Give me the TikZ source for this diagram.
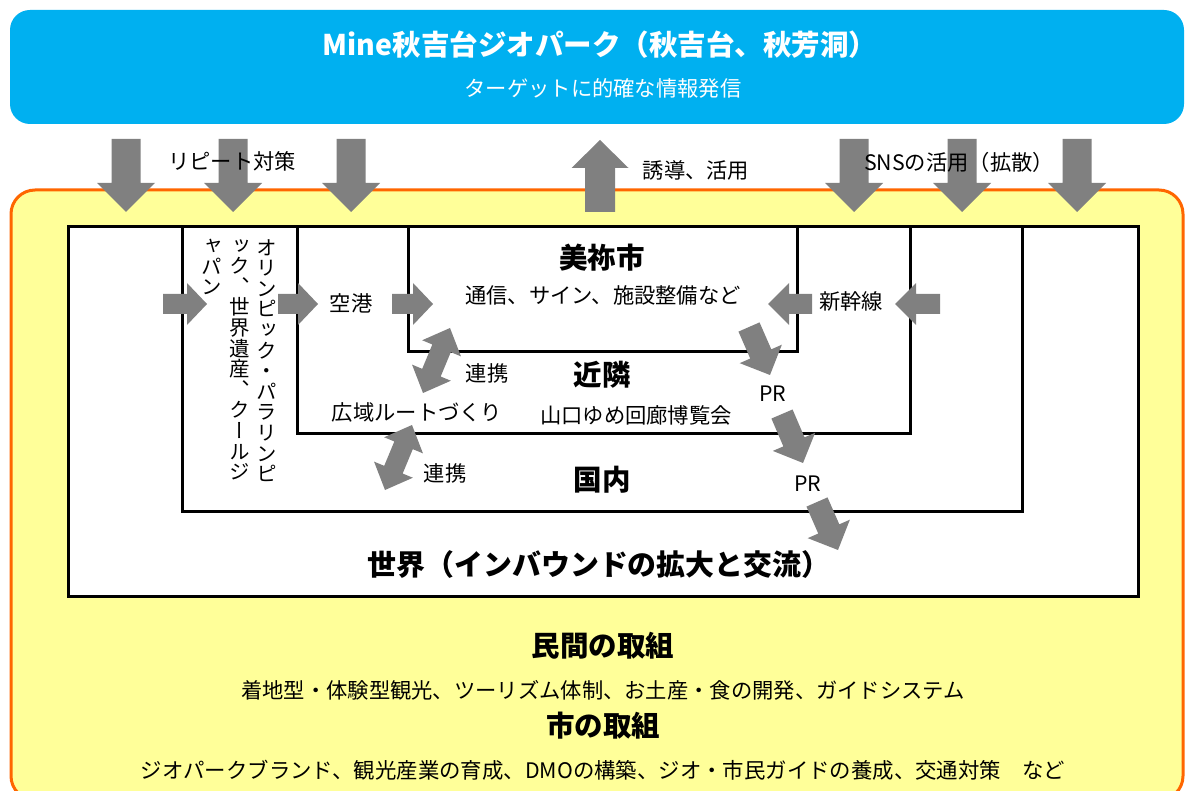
\documentclass[tikz,border=0pt]{standalone}
\usepackage{fontspec}
\setmainfont{Noto Sans CJK JP}
\newfontfamily\vjp[RawFeature=+vert]{Noto Sans CJK JP}
\usetikzlibrary{calc}
\definecolor{bannerblue}{HTML}{00B0F0}
\definecolor{paleyellow}{HTML}{FFFF99}
\definecolor{borderorange}{HTML}{FF6600}
\definecolor{arrowgray}{HTML}{808080}
% #1 tail, #2 tip, #3 shaft half width, #4 head half width, #5 head length
\newcommand\blockarrow[5]{%
  \coordinate (ba-h) at ($(#2)!#5pt!(#1)$);
  \fill[arrowgray] ($(#1)!#3pt!90:(#2)$) -- ($(ba-h)!#3pt!90:(#2)$) -- ($(ba-h)!#4pt!90:(#2)$) -- (#2)
    -- ($(ba-h)!#4pt!-90:(#2)$) -- ($(ba-h)!#3pt!-90:(#2)$) -- ($(#1)!#3pt!-90:(#2)$) -- cycle;
}
% #1 end one, #2 end two, #3 shaft half width, #4 head half width, #5 head length
\newcommand\dblarrow[5]{%
  \coordinate (da-a) at ($(#1)!#5pt!(#2)$);
  \coordinate (da-b) at ($(#2)!#5pt!(#1)$);
  \fill[arrowgray] (#2) -- ($(da-b)!#4pt!90:(#2)$) -- ($(da-b)!#3pt!90:(#2)$) -- ($(da-a)!#3pt!90:(#2)$)
    -- ($(da-a)!#4pt!90:(#2)$) -- (#1) -- ($(da-a)!#4pt!-90:(#2)$) -- ($(da-a)!#3pt!-90:(#2)$)
    -- ($(da-b)!#3pt!-90:(#2)$) -- ($(da-b)!#4pt!-90:(#2)$) -- cycle;
}
\tikzset{
  txt/.style={inner sep=0pt, font=\fontsize{21.3}{24}\selectfont},
  head/.style={inner sep=0pt, font=\fontsize{28.5}{30}\selectfont\bfseries},
  vtext/.style={inner sep=0pt, anchor=north, align=center, font=\vjp\fontsize{20.5}{20.6}\selectfont},
  boxline/.style={line width=3pt},
}
\begin{document}
\begin{tikzpicture}[x=1pt,y=-1pt]
\useasboundingbox (0,0) rectangle (1186,791);
\clip (0,0) rectangle (1186,791);
\fill[white] (0,0) rectangle (1186,791);
% banner
\fill[bannerblue, rounded corners=20pt] (10,10) rectangle (1184,124);
\node[head, white, font=\fontsize{28.5}{30}\selectfont\bfseries] (title) at (600,45) {Mine秋吉台ジオパーク（秋吉台、秋芳洞）};
\node[txt, white] (subtitle) at (603,88) {ターゲットに的確な情報発信};
% yellow area
\draw[borderorange, line width=3pt, fill=paleyellow, rounded corners=24pt] (11,190) rectangle (1183,800);
% nested boxes
\draw[boxline, fill=white] (68,227) rectangle (1138,596);
\draw[boxline] (182,227) |- (1022,511) -- (1022,227);
\draw[boxline] (297,227) |- (910,433) -- (910,227);
\draw[boxline] (408,227) |- (797,352) -- (797,227);
% top arrows
\foreach \x [count=\i] in {126,233,351,854,962,1077}{
  \coordinate (dt\i) at (\x,139);
  \coordinate (dp\i) at (\x,212);
  \blockarrow{dt\i}{dp\i}{14.5}{29}{29}
}
\coordinate (ut) at (600,212);
\coordinate (up) at (600,140);
\blockarrow{ut}{up}{15}{28.5}{28}
\node[txt] (repeat) at (232,161) {リピート対策};
\node[txt] (induce) at (696,170) {誘導、活用};
\node[txt] (sns) at (959,162) {SNSの活用（拡散）};
% horizontal arrows
\coordinate (hA1) at (163,304); \coordinate (hA2) at (207,304);
\coordinate (hB1) at (278,304); \coordinate (hB2) at (318,304);
\coordinate (hC1) at (392,304); \coordinate (hC2) at (433,304);
\coordinate (hD1) at (812,304); \coordinate (hD2) at (768,304);
\coordinate (hE1) at (940,304); \coordinate (hE2) at (895,304);
\blockarrow{hA1}{hA2}{10}{21}{20}
\blockarrow{hB1}{hB2}{10}{21}{20}
\blockarrow{hC1}{hC2}{10}{21}{20}
\blockarrow{hD1}{hD2}{10}{21}{21}
\blockarrow{hE1}{hE2}{10}{21}{21}
% double arrows
\coordinate (d1a) at (423,393); \coordinate (d1b) at (450,328);
\coordinate (d2a) at (385,490); \coordinate (d2b) at (412,425);
\dblarrow{d1a}{d1b}{10}{21}{22}
\dblarrow{d2a}{d2b}{10}{21}{22}
% PR arrows
\coordinate (p1a) at (749,327); \coordinate (p1b) at (770,375);
\coordinate (p2a) at (782,414); \coordinate (p2b) at (803,463);
\coordinate (p3a) at (817,502); \coordinate (p3b) at (838,550);
\blockarrow{p1a}{p1b}{11.5}{23}{23}
\blockarrow{p2a}{p2b}{11.5}{23}{23}
\blockarrow{p3a}{p3b}{11.5}{23}{23}
% texts inside boxes
\node[head] (mine) at (602,258) {美祢市};
\node[txt] (mine-sub) at (603,295) {通信、サイン、施設整備など};
\node[head] (near) at (602,375) {近隣};
\node[txt] (near-sub) at (636,415) {山口ゆめ回廊博覧会};
\node[txt] (route) at (417,412) {広域ルートづくり};
\node[txt] (link1) at (487,373) {連携};
\node[txt] (link2) at (445,473) {連携};
\node[head] (domestic) at (602,480) {国内};
\node[txt] (pr1) at (773,394) {PR};
\node[txt] (pr2) at (808,484) {PR};
\node[head, font=\fontsize{28.9}{30}\selectfont\bfseries] (world) at (599,565) {世界（インバウンドの拡大と交流）};
\node[txt] (airport) at (351,303) {空港};
\node[txt] (shinkansen) at (851,301) {新幹線};
% vertical text
\node[vtext] (col1) at (267,239) {オ\\リ\\ン\\ピ\\ッ\\ク\\・\\パ\\ラ\\リ\\ン\\ピ};
\node[vtext] (col2) at (240,239) {ッ\\ク\\、\\世\\界\\遺\\産\\、\\ク\\ー\\ル\\ジ};
\node[vtext] (col3) at (212,239) {ャ\\パ\\ン};
% bottom texts
\node[head] (private) at (603,646) {民間の取組};
\node[txt] (private-sub) at (603,690) {着地型・体験型観光、ツーリズム体制、お土産・食の開発、ガイドシステム};
\node[head] (city) at (603,726) {市の取組};
\node[txt, font=\fontsize{21.4}{24}\selectfont] (city-sub) at (603,770) {ジオパークブランド、観光産業の育成、DMOの構築、ジオ・市民ガイドの養成、交通対策　など};
\end{tikzpicture}
\end{document}
